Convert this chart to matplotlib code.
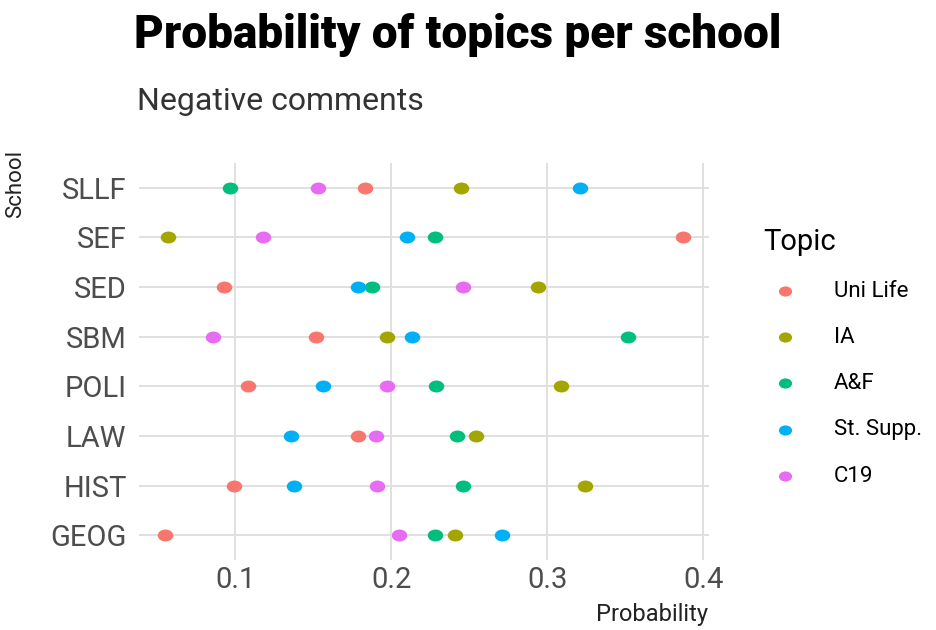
import numpy as np
import matplotlib.pyplot as plt
from matplotlib.path import Path
from matplotlib.transforms import Affine2D

plt.rcParams['font.family'] = ['Roboto', 'DejaVu Sans']

# data ------------------------------------------------------------------
schools = ['GEOG', 'HIST', 'LAW', 'POLI', 'SBM', 'SED', 'SEF', 'SLLF']
topics = ['Uni Life', 'IA', 'A&F', 'St. Supp.', 'C19']
colors = ['#F8766D', '#A3A500', '#00BF7D', '#00B0F6', '#E76BF3']

uni_life = [0.055, 0.099, 0.179, 0.108, 0.152, 0.093, 0.387, 0.183]
ia       = [0.241, 0.324, 0.254, 0.309, 0.197, 0.294, 0.057, 0.245]
a_f      = [0.228, 0.246, 0.242, 0.229, 0.352, 0.188, 0.228, 0.097]
st_supp  = [0.271, 0.138, 0.136, 0.156, 0.213, 0.179, 0.210, 0.321]
c19      = [0.205, 0.191, 0.190, 0.197, 0.086, 0.246, 0.118, 0.153]
series = [uni_life, ia, a_f, st_supp, c19]

# slightly wide dots, like the original
ellipse = Path.unit_circle().transformed(Affine2D().scale(1.3, 1.0))

W, H = 937, 630
fig = plt.figure(figsize=(W/100, H/100), dpi=100)
ax = fig.add_axes([139/W, 1-560/H, (709-139)/W, (560-163)/H])

ypos = np.arange(len(schools))
for vals, lab, col in zip(series, topics, colors):
    ax.scatter(vals, ypos, s=125, marker=ellipse, color=col, label=lab,
               linewidths=0, zorder=3)

ax.set_xlim(0.0384, 0.4036)
ax.set_ylim(-0.5, 7.5)
ax.set_xticks([0.1, 0.2, 0.3, 0.4])
ax.set_xticklabels(['0.1', '0.2', '0.3', '0.4'])
ax.set_yticks(ypos)
ax.set_yticklabels(schools)
ax.grid(True, color='#E0E0E0', linewidth=1.4, zorder=0)
ax.set_axisbelow(True)
for s in ax.spines.values():
    s.set_visible(False)
ax.tick_params(length=0, labelsize=21, colors='#4D4D4D', pad=9)
ax.tick_params(axis='x', pad=4)

fig.text(134/W, 1-35/H, 'Probability of topics per school', fontsize=33,
         fontweight='black', ha='left', va='center')
fig.text(137/W, 1-101/H, 'Negative comments', fontsize=23, color='#333333',
         ha='left', va='center')
fig.text(16/W, 1-150/H, 'School', fontsize=16, rotation=90, ha='center',
         va='top', color='#222222')
fig.text(708/W, 1-615/H, 'Probability', fontsize=17, ha='right', va='center',
         color='#222222')

leg = ax.legend(title='Topic', loc='upper left', bbox_to_anchor=(743/W, 1-208/H),
                bbox_transform=fig.transFigure, frameon=False, fontsize=16,
                title_fontsize=21, labelspacing=1.13, handletextpad=1.2,
                markerscale=0.85)
leg._legend_box.align = 'left'

fig.savefig('out.png', dpi=100)
